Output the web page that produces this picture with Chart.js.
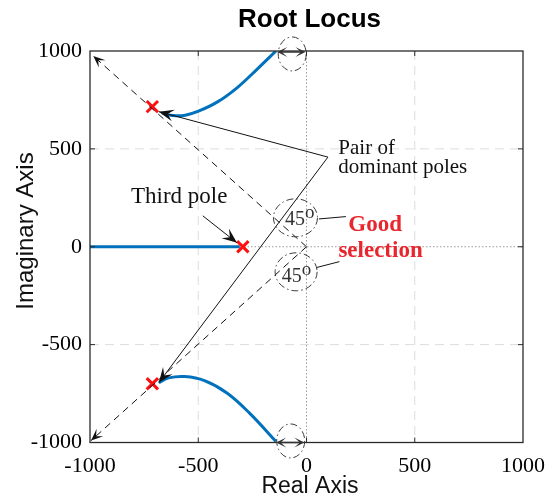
<!DOCTYPE html>
<html>
<head>
<meta charset="utf-8">
<script src="https://cdn.jsdelivr.net/npm/chart.js@4/dist/chart.umd.min.js"></script>
<style>
  html, body { margin: 0; padding: 0; background: #fff; }
  canvas { display: block; }
</style>
</head>
<body>
<canvas id="locus" width="556" height="500"></canvas>
<script>
// Axis ticks
const realTicks = [-1000, -500, 0, 500, 1000];
const imagTicks = [-1000, -500, 0, 500, 1000];

// Root locus branches (real part, imaginary part)
const upperBranchRe = [-668, -637, -601, -560, -502, -411, -321, -231, -141];
const upperBranchIm = [684, 673, 669, 672, 691, 740, 812, 904, 1000];
const lowerBranchRe = [-682, -637, -562, -471, -366, -263, -141];
const lowerBranchIm = [-694, -670, -663, -684, -748, -850, -995];
const realBranchRe = [-1000, -308];
const realBranchIm = [0, 0];

// Selected closed-loop poles
const poleRe = [-712, -712, -294];
const poleIm = [716, -700, 0];

// Annotation anchors in axis units
const rayEndRe = [-985, -995];
const rayEndIm = [975, -990];
const dominantApex = [99, 458];
const dominantTipRe = [-682, -682];
const dominantTipIm = [690, -694];
const thirdPoleArrowRe = [-479, -321];
const thirdPoleArrowIm = [158, 20];
const zetaLeaderStartRe = [57, 47];
const zetaLeaderStartIm = [142, -106];
const zetaLeaderEndRe = [182, 152];
const zetaLeaderEndIm = [154, -76];

const SERIF = "'Liberation Serif', 'Times New Roman', serif";
const SANS = "'Liberation Sans', Arial, sans-serif";

const toPoints = (xs, ys) => xs.map((x, i) => ({ x, y: ys[i] }));

function arrowHead(ctx, x0, y0, x1, y1, len, half, back) {
  const a = Math.atan2(y1 - y0, x1 - x0);
  const ux = Math.cos(a), uy = Math.sin(a);
  const nx = -uy, ny = ux;
  const bx = x1 - ux * len, by = y1 - uy * len;
  ctx.beginPath();
  ctx.moveTo(x1, y1);
  ctx.lineTo(bx + nx * half, by + ny * half);
  ctx.lineTo(x1 - ux * len * back, y1 - uy * len * back);
  ctx.lineTo(bx - nx * half, by - ny * half);
  ctx.closePath();
  ctx.fill();
}

function ellipse(ctx, cx, cy, rx, ry) {
  ctx.beginPath();
  ctx.ellipse(cx, cy, rx, ry, 0, 0, Math.PI * 2);
  ctx.stroke();
}

const decorations = {
  id: 'decorations',
  beforeDatasetsDraw(chart) {
    const { ctx, chartArea: a, scales: { x, y } } = chart;
    ctx.save();
    // grid
    realTicks.forEach(v => {
      if (v === -1000 || v === 1000) return;
      const px = x.getPixelForValue(v);
      ctx.beginPath();
      if (v === 0) { ctx.strokeStyle = '#9a9a9a'; ctx.setLineDash([1.5, 2]); }
      else { ctx.strokeStyle = '#dcdcdc'; ctx.setLineDash([9, 6]); }
      ctx.lineWidth = 1;
      ctx.moveTo(px, a.top); ctx.lineTo(px, a.bottom); ctx.stroke();
    });
    imagTicks.forEach(v => {
      if (v === -1000 || v === 1000) return;
      const py = y.getPixelForValue(v);
      ctx.beginPath();
      if (v === 0) { ctx.strokeStyle = '#9a9a9a'; ctx.setLineDash([1.5, 2]); }
      else { ctx.strokeStyle = '#dcdcdc'; ctx.setLineDash([9, 6]); }
      ctx.lineWidth = 1;
      ctx.moveTo(a.left, py); ctx.lineTo(a.right, py); ctx.stroke();
    });
    ctx.restore();
  },
  afterDatasetsDraw(chart) {
    const { ctx, chartArea: a, scales: { x, y } } = chart;
    const X = v => x.getPixelForValue(v);
    const Y = v => y.getPixelForValue(v);
    ctx.save();

    // axes box and inner ticks
    ctx.setLineDash([]);
    ctx.strokeStyle = '#2a2a2a';
    ctx.lineWidth = 1.3;
    ctx.strokeRect(a.left, a.top, a.right - a.left, a.bottom - a.top);
    ctx.lineWidth = 1;
    realTicks.slice(1, -1).forEach(v => {
      const px = X(v);
      ctx.beginPath();
      ctx.moveTo(px, a.bottom); ctx.lineTo(px, a.bottom - 5);
      ctx.moveTo(px, a.top); ctx.lineTo(px, a.top + 5);
      ctx.stroke();
    });
    imagTicks.slice(1, -1).forEach(v => {
      const py = Y(v);
      ctx.beginPath();
      ctx.moveTo(a.left, py); ctx.lineTo(a.left + 5, py);
      ctx.moveTo(a.right, py); ctx.lineTo(a.right - 5, py);
      ctx.stroke();
    });

    // constant damping rays from the origin
    ctx.strokeStyle = '#111';
    ctx.fillStyle = '#111';
    ctx.lineWidth = 1;
    for (let i = 0; i < rayEndRe.length; i++) {
      const x0 = X(0), y0 = Y(0), x1 = X(rayEndRe[i]), y1 = Y(rayEndIm[i]);
      ctx.setLineDash([7, 5]);
      ctx.beginPath(); ctx.moveTo(x0, y0); ctx.lineTo(x1, y1); ctx.stroke();
      ctx.setLineDash([]);
      arrowHead(ctx, x0, y0, x1, y1, 12, 5, 0.55);
    }

    // leaders to the dominant poles
    ctx.setLineDash([]);
    const ax = X(dominantApex[0]), ay = Y(dominantApex[1]);
    for (let i = 0; i < dominantTipRe.length; i++) {
      const tx = X(dominantTipRe[i]), ty = Y(dominantTipIm[i]);
      ctx.beginPath(); ctx.moveTo(ax, ay); ctx.lineTo(tx, ty); ctx.stroke();
      arrowHead(ctx, ax, ay, tx, ty, 15, 6, 0.6);
    }

    // third pole leader
    {
      const x0 = X(thirdPoleArrowRe[0]), y0 = Y(thirdPoleArrowIm[0]);
      const x1 = X(thirdPoleArrowRe[1]), y1 = Y(thirdPoleArrowIm[1]);
      ctx.beginPath(); ctx.moveTo(x0, y0); ctx.lineTo(x1, y1); ctx.stroke();
      arrowHead(ctx, x0, y0, x1, y1, 15, 6, 0.6);
    }

    // leaders from the angle marks to the caption
    for (let i = 0; i < zetaLeaderStartRe.length; i++) {
      ctx.beginPath();
      ctx.moveTo(X(zetaLeaderStartRe[i]), Y(zetaLeaderStartIm[i]));
      ctx.lineTo(X(zetaLeaderEndRe[i]), Y(zetaLeaderEndIm[i]));
      ctx.stroke();
    }

    // double arrows marking the branch offset from the imaginary axis
    ctx.strokeStyle = '#333';
    ctx.fillStyle = '#333';
    ctx.lineWidth = 1.5;
    [[-135, -5, 1000], [-140, -10, -1000]].forEach(([r0, r1, im]) => {
      const x0 = X(r0), x1 = X(r1), py = Y(im) + (im > 0 ? 1 : 0);
      ctx.beginPath(); ctx.moveTo(x0 + 4, py); ctx.lineTo(x1 - 4, py); ctx.stroke();
      arrowHead(ctx, x1, py, x0, py, 10, 5, 0.45);
      arrowHead(ctx, x0, py, x1, py, 10, 5, 0.45);
    });

    // dash-dot circles
    ctx.lineWidth = 1;
    ctx.strokeStyle = '#3a3a3a';
    ctx.setLineDash([7, 3, 1.5, 3]);
    ellipse(ctx, X(-66), Y(985), 14, 17);
    ellipse(ctx, X(-73), Y(-992), 14, 17);
    ellipse(ctx, X(-51), Y(148), 22, 19);
    ellipse(ctx, X(-48), Y(-128), 21, 19);
    ctx.setLineDash([]);

    // 45° marks
    ctx.fillStyle = '#333';
    ctx.textAlign = 'left';
    ctx.textBaseline = 'alphabetic';
    [[-99, 112], [-114, -178]].forEach(([re, im]) => {
      const px = X(re), py = Y(im);
      ctx.font = `20px ${SERIF}`;
      ctx.fillText('45', px, py);
      const w = ctx.measureText('45').width;
      ctx.font = `19px ${SERIF}`;
      ctx.fillText('o', px + w, py - 7);
    });

    // text labels
    ctx.fillStyle = '#111';
    ctx.font = `23px ${SERIF}`;
    ctx.textAlign = 'center';
    ctx.fillText('Third pole', X(-588), Y(226));
    ctx.textAlign = 'left';
    ctx.font = `21px ${SERIF}`;
    ctx.fillText('Pair of', X(147), Y(475));
    ctx.fillText('dominant poles', X(147), Y(379));

    ctx.fillStyle = '#E8262D';
    ctx.font = `bold 23px ${SERIF}`;
    ctx.textAlign = 'center';
    ctx.fillText('Good', X(317), Y(78));
    ctx.fillText('selection', X(342), Y(-50));

    // title and axis titles
    ctx.fillStyle = '#000';
    ctx.font = `bold 26px ${SANS}`;
    ctx.textAlign = 'center';
    ctx.fillText('Root Locus', (a.left + a.right) / 2 + 3, 27);
    ctx.fillStyle = '#111';
    ctx.font = `23px ${SANS}`;
    ctx.fillText('Real Axis', 310, 493);
    ctx.save();
    ctx.translate(32.5, 231);
    ctx.rotate(-Math.PI / 2);
    ctx.font = `24px ${SANS}`;
    ctx.fillText('Imaginary Axis', 0, 0);
    ctx.restore();

    ctx.restore();
  }
};

const tickFont = { family: SERIF, size: 22 };
const branchStyle = {
  showLine: true, borderColor: '#0072BD', borderWidth: 3,
  pointRadius: 0, tension: 0.4, order: 2
};

new Chart(document.getElementById('locus'), {
  type: 'scatter',
  data: {
    datasets: [
      { ...branchStyle, data: toPoints(upperBranchRe, upperBranchIm) },
      { ...branchStyle, data: toPoints(lowerBranchRe, lowerBranchIm) },
      { ...branchStyle, tension: 0, data: toPoints(realBranchRe, realBranchIm) },
      {
        data: toPoints(poleRe, poleIm),
        showLine: false, pointStyle: 'crossRot', pointRadius: 8,
        borderColor: '#FF1010', backgroundColor: '#FF1010', pointBorderWidth: 3,
        order: 1
      }
    ]
  },
  options: {
    responsive: false,
    animation: false,
    devicePixelRatio: 1,
    layout: { padding: { top: 51, right: 23, bottom: 0, left: 0 } },
    plugins: { legend: { display: false }, title: { display: false }, tooltip: { enabled: false } },
    scales: {
      x: {
        type: 'linear', min: -1000, max: 1000,
        afterBuildTicks: s => { s.ticks = realTicks.map(v => ({ value: v })); },
        afterFit: s => { s.height = 57.5; },
        ticks: { font: tickFont, color: '#000', padding: 11, maxRotation: 0, autoSkip: false, callback: v => String(v) },
        grid: { display: false, drawTicks: false },
        border: { display: false }
      },
      y: {
        type: 'linear', min: -1000, max: 1000,
        afterBuildTicks: s => { s.ticks = imagTicks.map(v => ({ value: v })); },
        afterFit: s => { s.width = 90; },
        ticks: { font: tickFont, color: '#000', padding: 8, autoSkip: false, callback: v => String(v) },
        grid: { display: false, drawTicks: false },
        border: { display: false }
      }
    }
  },
  plugins: [decorations]
});
</script>
</body>
</html>
